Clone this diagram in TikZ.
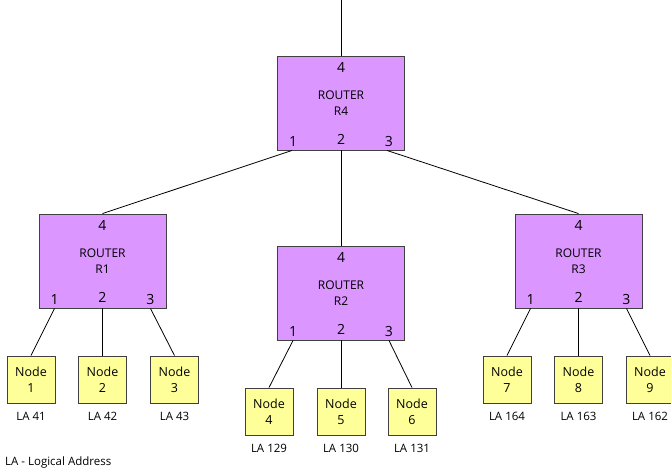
\documentclass[tikz,border=0pt]{standalone}
\usepackage{fontspec}
\setmainfont{Open Sans}
\usetikzlibrary{calc}
\definecolor{routerfill}{RGB}{220,150,255}
\definecolor{hostfill}{RGB}{255,255,153}
\definecolor{edgegray}{RGB}{64,64,64}
\tikzset{
  router/.style={draw=edgegray, line width=0.9pt, fill=routerfill, minimum width=127pt,
    minimum height=94pt, inner sep=0pt, align=center,
    font=\fontsize{12}{16}\selectfont},
  host/.style={draw=edgegray, line width=0.9pt, fill=hostfill, minimum width=48pt,
    minimum height=47pt, inner sep=0pt, align=center,
    font=\fontsize{12.5}{16}\selectfont},
  port/.style={inner sep=0pt, font=\fontsize{14}{16}\selectfont},
  addr/.style={inner sep=0pt, font=\fontsize{11.5}{14}\selectfont},
  wire/.style={line width=0.8pt, black},
}
\begin{document}
\begin{tikzpicture}[x=1pt,y=-1pt]
\useasboundingbox (0,0) rectangle (671,473);
\clip (0,0) rectangle (671,473);

% routers
\node[router] (R4) at (341,103) {ROUTER\\R4};
\node[router] (R1) at (102.5,261) {ROUTER\\R1};
\node[router] (R2) at (341,293) {ROUTER\\R2};
\node[router] (R3) at (578.5,261) {ROUTER\\R3};

% port numbers
\foreach \r in {R4,R1,R2,R3}{
  \node[port] (\r p4) at ([yshift=-12pt]\r.north) {4};
  \node[port] (\r p1) at ([xshift=16pt,yshift=9pt]\r.south west) {1};
  \node[port] (\r p2) at ([yshift=11pt]\r.south) {2};
  \node[port] (\r p3) at ([xshift=-16pt,yshift=9pt]\r.south east) {3};
}

% end hosts
\node[host] (N1) at (31,379.5) {Node\\1};
\node[host] (N2) at (102.5,379.5) {Node\\2};
\node[host] (N3) at (174.5,379.5) {Node\\3};
\node[host] (N4) at (269,411.5) {Node\\4};
\node[host] (N5) at (341,411.5) {Node\\5};
\node[host] (N6) at (412,411.5) {Node\\6};
\node[host] (N7) at (507,379.5) {Node\\7};
\node[host] (N8) at (578.5,379.5) {Node\\8};
\node[host] (N9) at (650,379.5) {Node\\9};

% logical addresses
\foreach \n/\a in {N1/41,N2/42,N3/43,N4/129,N5/130,N6/131,N7/164,N8/163,N9/162}{
  \node[addr] (\n la) at ([yshift=-13pt]\n.south) {LA \a};
}

% uplink
\coordinate (up) at (341,0);
\draw[wire] (R4.north) -- (up);

% backbone links
\draw[wire] ([xshift=15pt]R4.south west) -- (R1.north);
\draw[wire] (R4.south) -- (R2.north);
\draw[wire] ([xshift=-18pt]R4.south east) -- (R3.north);

% access links
\foreach \r/\a/\b/\c in {R1/N1/N2/N3, R2/N4/N5/N6, R3/N7/N8/N9}{
  \draw[wire] ([xshift=16pt]\r.south west) -- (\a.north);
  \draw[wire] (\r.south) -- (\b.north);
  \draw[wire] ([xshift=-16pt]\r.south east) -- (\c.north);
}

% legend
\node[addr, anchor=west] (legend) at (5,463) {LA - Logical Address};
\end{tikzpicture}
\end{document}
